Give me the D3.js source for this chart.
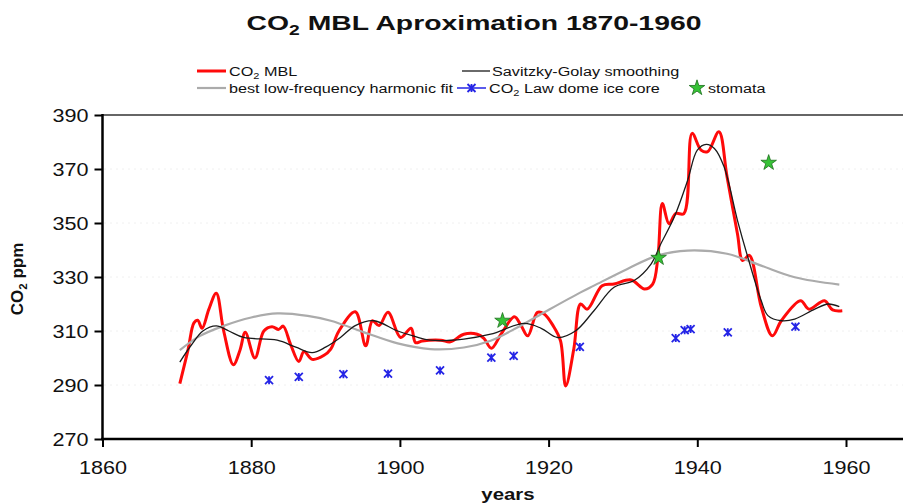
<!DOCTYPE html>
<html><head><meta charset="utf-8">
<script src="https://cdn.jsdelivr.net/npm/d3@7"></script>
<style>body{margin:0;background:#fff}svg{font-family:"Liberation Sans",Arial,sans-serif}</style>
</head><body><svg id="c" width="903" height="504"></svg>
<script>
// ---- data ----
const mblYears = [1870.4,1871.5,1872.3,1872.8,1873.4,1874.3,1875.3,1876.3,1877.6,1878.5,1879.2,1880.5,1881.7,1882.8,1883.7,1884.3,1885.3,1886.4,1887.1,1888.2,1889.8,1890.7,1891.8,1894.0,1895.4,1896.3,1897.2,1898.4,1900.1,1901.5,1902.1,1903.0,1905.5,1906.8,1908.6,1910.4,1911.3,1912.3,1913.6,1915.4,1916.3,1917.2,1918.5,1919.4,1920.6,1921.6,1922.3,1923.4,1924.3,1925.2,1927.2,1928.8,1931.1,1932.9,1934.0,1934.7,1935.3,1936.2,1937.1,1938.2,1939.3,1940.5,1941.4,1942.9,1944.0,1945.4,1946.1,1947.0,1948.6,1950.1,1951.3,1953.9,1955.0,1957.1,1958.2,1959.5];
const mblValues = [290.5,303,313,314,311,318,324,310,297.5,303,309.5,300,310,311.6,310.6,311.8,305,298.7,302.4,299.5,301,303.3,310,317.1,304.5,313.8,312,316.9,307.6,311,305.7,306.3,306.6,306,308.8,308.8,307.3,303.6,308.8,315.3,312,308.2,316.9,316.3,312,306.4,289.6,303.5,320,318.1,326.8,327.4,328.9,325.6,327.4,337.3,357.2,349.7,353.5,353.5,383.2,377,376.4,383.8,367.1,346,336.1,338,319,308.2,313.8,321.2,318.1,321.2,317.8,317.5];

const sgYears = [1870.4,1872,1873.5,1875.3,1877,1879,1883.5,1886,1888.2,1890,1892,1894,1896.5,1899.7,1902,1904.1,1908.6,1912.2,1916.7,1919,1921.2,1923.6,1926.1,1928.8,1931.5,1933.8,1935.1,1936.9,1938.7,1940,1941.2,1942.3,1943.6,1945.4,1946.8,1948.6,1949.5,1951.3,1953.1,1955.8,1957.6,1959.1];
const sgValues = [298.5,305,310,311.9,310,307.6,306.6,304,302,304,307.6,312,313.8,310,308,306.6,307,308.8,312.8,311,307.6,310,317.5,326.2,328.7,334.9,342.3,352.2,365.8,377,379.1,377.6,370.8,351,337.3,321.2,315.7,313.8,314.4,318.1,320,319];

const fitYears = [1870.4,1873,1876.3,1880,1883.5,1887.6,1890.7,1895.2,1899.7,1904.1,1908.6,1912.2,1915.8,1919.8,1924.3,1926.1,1930.6,1934.7,1938.7,1944,1948.6,1953.1,1959.1];
const fitValues = [302.9,308,311.9,315,316.5,315.6,313.8,309.5,305.4,303.3,303.9,306.4,311.3,317.5,324.3,326.8,333,338,339.8,338.6,334.2,329.9,327.2];

const lawYears = [1882.4,1886.4,1892.4,1898.4,1905.4,1912.3,1915.3,1924.2,1937.1,1938.3,1939.1,1944.1,1953.2];
const lawValues = [291.8,293,294,294.2,295.4,300.1,300.8,304.1,307.4,310.3,310.7,309.5,311.6];

const stomataYears = [1913.8,1934.8,1949.6];
const stomataValues = [313.8,337.1,372.3];

const xTicks = [1860,1880,1900,1920,1940,1960];
const yTicks = [270,290,310,330,350,370,390];

// ---- drawing ----
const svg = d3.select("#c");
const x = d3.scaleLinear().domain([1860,1960]).range([102.5,846]);
const y = d3.scaleLinear().domain([270,390]).range([439,115]);

const SX = 1.2; // horizontal stretch of text in the reference

// faint gridlines
svg.append("g").selectAll("line").data(yTicks.slice(1,-1)).join("line")
  .attr("x1",104).attr("x2",903).attr("y1",d=>y(d)).attr("y2",d=>y(d))
  .attr("stroke","#f0f0f0").attr("stroke-dasharray","2,4");

// frame lines
svg.append("line").attr("x1",102).attr("x2",903).attr("y1",y(390)).attr("y2",y(390)).attr("stroke","#333").attr("stroke-width",1.3);

const gx = svg.append("g").attr("transform",`translate(0,${y(270)})`)
  .call(d3.axisBottom(x).tickValues(xTicks).tickSize(8).tickSizeOuter(0).tickFormat(d3.format("d")));
gx.select(".domain").remove();
gx.selectAll(".tick line").attr("stroke","#000").attr("stroke-width",2);
gx.selectAll(".tick text").attr("font-size",18).attr("fill","#111").attr("y",0).attr("dy",0)
  .attr("transform",`translate(0,35) scale(${SX},1)`);

const gy = svg.append("g").attr("transform",`translate(${x(1860)},0)`)
  .call(d3.axisLeft(y).tickValues(yTicks).tickSize(8).tickSizeOuter(0));
gy.select(".domain").remove();
gy.selectAll(".tick line").attr("stroke","#000").attr("stroke-width",2);
gy.selectAll(".tick text").attr("font-size",18).attr("fill","#111").attr("x",0).attr("dy","0.35em")
  .attr("transform",`translate(-14,0) scale(${SX},1)`);

svg.append("line").attr("x1",101).attr("x2",903).attr("y1",y(270)).attr("y2",y(270)).attr("stroke","#000").attr("stroke-width",2.5);
svg.append("line").attr("x1",x(1860)).attr("x2",x(1860)).attr("y1",y(390)-1).attr("y2",y(270)+1).attr("stroke","#000").attr("stroke-width",2.5);

// series
const mk = (xs,vs)=>xs.map((d,i)=>[d,vs[i]]);
const line = d3.line().x(d=>x(d[0])).y(d=>y(d[1])).curve(d3.curveCatmullRom.alpha(0.5));

svg.append("path").attr("d",line(mk(mblYears,mblValues))).attr("fill","none").attr("stroke","#ff0a0a").attr("stroke-width",3).attr("stroke-linejoin","round");
svg.append("path").attr("d",line(mk(fitYears,fitValues))).attr("fill","none").attr("stroke","#ababab").attr("stroke-width",2.2);
svg.append("path").attr("d",line(mk(sgYears,sgValues))).attr("fill","none").attr("stroke","#1a1a1a").attr("stroke-width",1.3);

const ast = r => `M${-r},${-r}L${r},${r}M${-r},${r}L${r},${-r}M0,${-r}L0,${r}`;
svg.append("g").selectAll("path").data(mk(lawYears,lawValues)).join("path")
  .attr("transform",d=>`translate(${x(d[0])},${y(d[1])})`).attr("d",ast(4))
  .attr("stroke","#2424e6").attr("stroke-width",1.8).attr("fill","none");

const star = d3.symbol().type(d3.symbolStar).size(75);
svg.append("g").selectAll("path").data(mk(stomataYears,stomataValues)).join("path")
  .attr("transform",d=>`translate(${x(d[0])},${y(d[1])})`).attr("d",star())
  .attr("fill","#36c236").attr("stroke","#1d6e1d").attr("stroke-width",0.8);

// text helper
function txt(px,py,size,weight,anchor,sx,parts){
  const t = svg.append("text").attr("transform",`translate(${px},${py}) scale(${sx},1)`)
    .attr("font-size",size).attr("font-weight",weight).attr("text-anchor",anchor).attr("fill","#111");
  parts.forEach(p=>{
    const s = t.append("tspan").text(p.t);
    if(p.sub){ s.attr("font-size",size*0.68).attr("dy",size*0.25); }
    else if(p.after){ s.attr("dy",-size*0.25); }
  });
  return t;
}

// title
txt(474,30,21,"bold","middle",1.35,[{t:"CO"},{t:"2",sub:true},{t:" MBL Aproximation 1870-1960",after:true}]);

// legend
const r1 = 71, r2 = 88;
svg.append("line").attr("x1",197).attr("x2",226).attr("y1",r1).attr("y2",r1).attr("stroke","#ff0a0a").attr("stroke-width",3);
txt(229,r1+5,13.5,"normal","start",SX,[{t:"CO"},{t:"2",sub:true},{t:"  MBL",after:true}]);
svg.append("line").attr("x1",462).attr("x2",490).attr("y1",r1).attr("y2",r1).attr("stroke","#1a1a1a").attr("stroke-width",1.3);
txt(492,r1+5,13.5,"normal","start",SX,[{t:"Savitzky-Golay smoothing"}]);

svg.append("line").attr("x1",197).attr("x2",226).attr("y1",r2).attr("y2",r2).attr("stroke","#ababab").attr("stroke-width",2.2);
txt(229,r2+5,13.5,"normal","start",SX,[{t:"best low-frequency harmonic fit"}]);
svg.append("line").attr("x1",457).attr("x2",486).attr("y1",r2).attr("y2",r2).attr("stroke","#2424e6").attr("stroke-width",1.5);
svg.append("path").attr("transform",`translate(471.5,${r2})`).attr("d",ast(4)).attr("stroke","#2424e6").attr("stroke-width",1.8);
txt(489,r2+5,13.5,"normal","start",SX,[{t:"CO"},{t:"2",sub:true},{t:" Law dome ice core",after:true}]);
svg.append("path").attr("transform",`translate(697,${r2})`).attr("d",star()).attr("fill","#36c236").attr("stroke","#1d6e1d").attr("stroke-width",0.8);
txt(708,r2+5,13.5,"normal","start",SX,[{t:"stomata"}]);

// axis titles
txt(508,500,17,"bold","middle",1.2,[{t:"years"}]);
const yl = svg.append("text").attr("transform","translate(23,279) rotate(-90)")
  .attr("font-size",17).attr("font-weight","bold").attr("text-anchor","middle").attr("fill","#111");
yl.append("tspan").text("CO");
yl.append("tspan").text("2").attr("font-size",11.5).attr("dy",4);
yl.append("tspan").text(" ppm").attr("dy",-4);
</script></body></html>
